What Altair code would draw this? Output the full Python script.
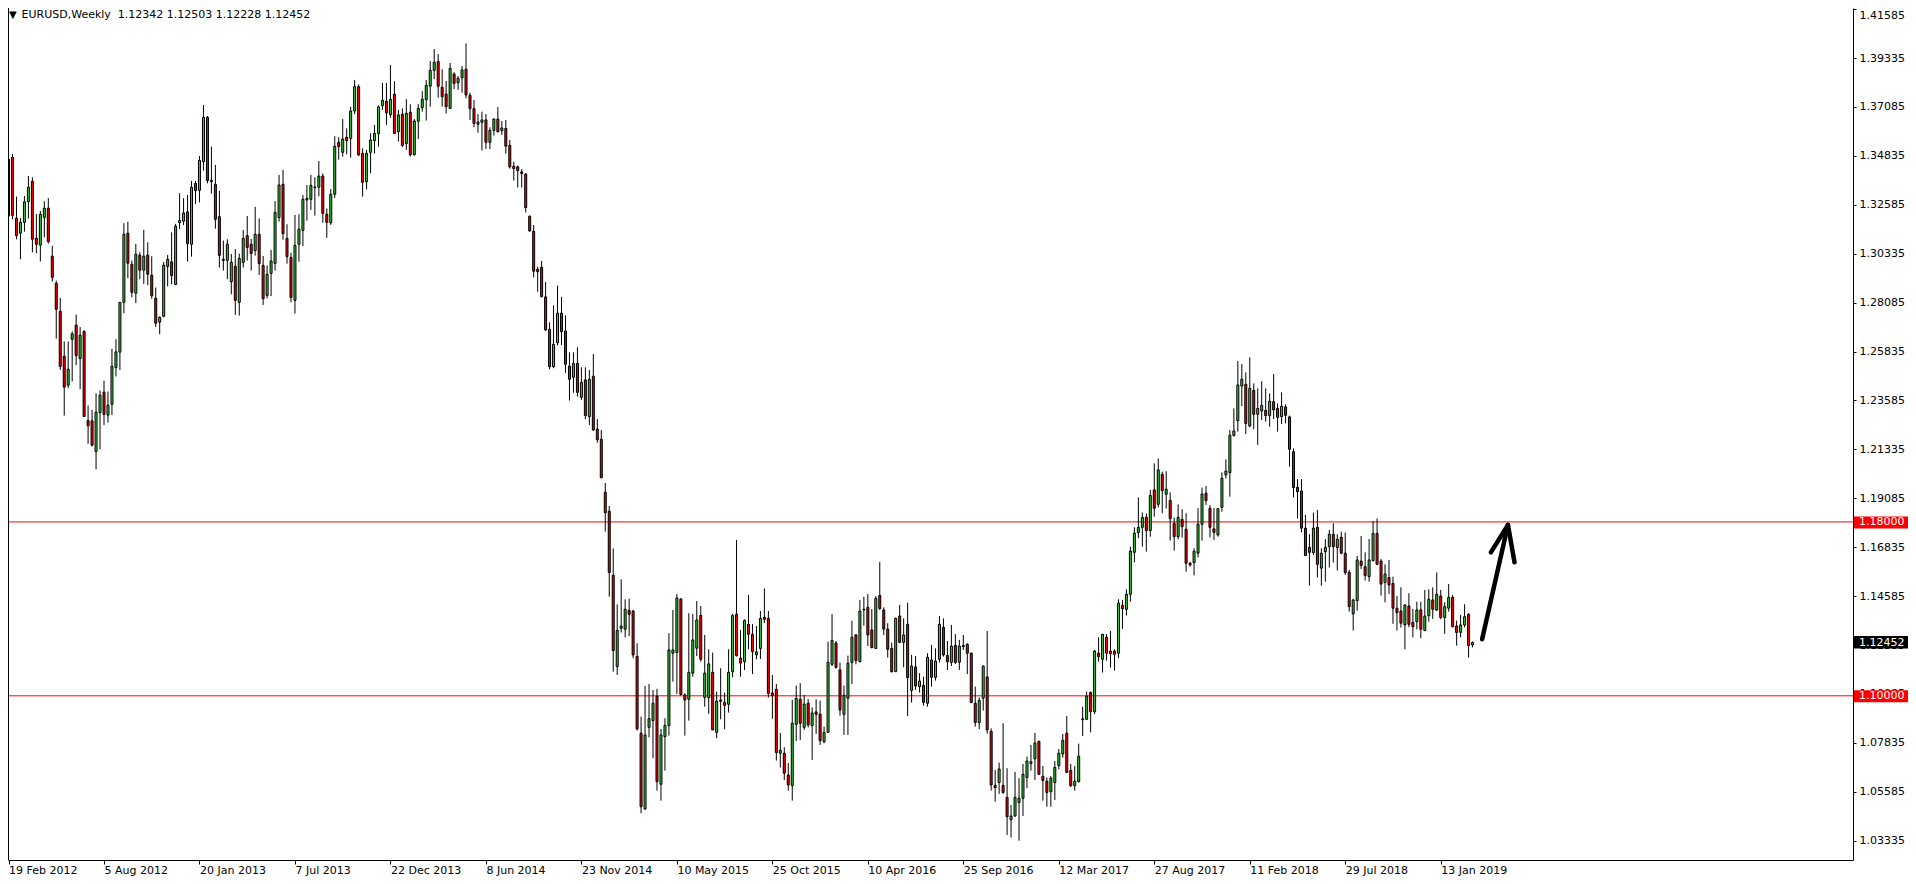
import altair as alt
import pandas as pd

# ---------------- data (weekly EURUSD, 19 Feb 2012 .. 10 Mar 2019) ----------------
OPEN = [
    1.3207, 1.3477, 1.3197, 1.3128, 1.3178, 1.3273, 1.3367, 1.3105, 1.3073, 1.3201,
    1.3243, 1.3022, 1.2898, 1.2769, 1.2562, 1.2429, 1.2640, 1.2705, 1.2551, 1.2677,
    1.2266, 1.2265, 1.2124, 1.2303, 1.2397, 1.2291, 1.2341, 1.2510, 1.2581, 1.2810,
    1.3128, 1.2985, 1.2852, 1.3027, 1.2958, 1.3027, 1.2935, 1.2829, 1.2719, 1.2746,
    1.2975, 1.2996, 1.2892, 1.3177, 1.3183, 1.3226, 1.3077, 1.3357, 1.3325, 1.3457,
    1.3661, 1.3371, 1.3353, 1.3204, 1.3008, 1.3003, 1.2905, 1.2976, 1.2810, 1.2994,
    1.3117, 1.3077, 1.3048, 1.3123, 1.2980, 1.2842, 1.2943, 1.2989, 1.3200, 1.3353,
    1.3104, 1.3017, 1.2819, 1.3077, 1.3141, 1.3281, 1.3284, 1.3337, 1.3340, 1.3391,
    1.3215, 1.3176, 1.3307, 1.3546, 1.3500, 1.3569, 1.3564, 1.3690, 1.3802, 1.3495,
    1.3365, 1.3500, 1.3554, 1.3586, 1.3715, 1.3735, 1.3673, 1.3767, 1.3595, 1.3675,
    1.3540, 1.3684, 1.3489, 1.3643, 1.3705, 1.3742, 1.3804, 1.3877, 1.3918, 1.3799,
    1.3768, 1.3702, 1.3860, 1.3820, 1.3843, 1.3882, 1.3762, 1.3701, 1.3629, 1.3638,
    1.3649, 1.3546, 1.3601, 1.3653, 1.3600, 1.3610, 1.3532, 1.3436, 1.3433, 1.3410,
    1.3400, 1.3206, 1.3137, 1.2962, 1.2971, 1.2835, 1.2686, 1.2514, 1.2624, 1.2760,
    1.2678, 1.2517, 1.2465, 1.2529, 1.2373, 1.2453, 1.2284, 1.2470, 1.2227, 1.2180,
    1.1936, 1.1849, 1.1554, 1.1134, 1.1311, 1.1306, 1.1393, 1.1390, 1.1182, 1.0828,
    1.0480, 1.0855, 1.0886, 1.0998, 1.0593, 1.0812, 1.0863, 1.1196, 1.1199, 1.1445,
    1.1004, 1.0984, 1.1104, 1.1219, 1.1370, 1.0993, 1.0992, 1.1108, 1.0832, 1.0981,
    1.0970, 1.0961, 1.1111, 1.1375, 1.1173, 1.1157, 1.1329, 1.1283, 1.1189, 1.1218,
    1.1361, 1.1356, 1.1013, 1.1030, 1.0736, 1.0736, 1.0636, 1.0587, 1.0869, 1.0984,
    1.0855, 1.0966, 1.0863, 1.0926, 1.0916, 1.0789, 1.0832, 1.1145, 1.1243, 1.1119,
    1.0915, 1.0989, 1.1153, 1.1280, 1.1157, 1.1395, 1.1407, 1.1303, 1.1218, 1.1462,
    1.1395, 1.1307, 1.1218, 1.1111, 1.1367, 1.1246, 1.1329, 1.1025, 1.1133, 1.1042,
    1.1048, 1.0966, 1.1165, 1.1085, 1.1168, 1.1315, 1.1186, 1.1154, 1.1232, 1.1154,
    1.1226, 1.1237, 1.1196, 1.0966, 1.0877, 1.0989, 1.1087, 1.0837, 1.0588, 1.0601,
    1.0588, 1.0533, 1.0430, 1.0447, 1.0509, 1.0529, 1.0624, 1.0688, 1.0710, 1.0791,
    1.0630, 1.0607, 1.0559, 1.0601, 1.0679, 1.0733, 1.0828, 1.0657, 1.0587, 1.0605,
    1.0890, 1.0892, 1.1016, 1.0927, 1.1196, 1.1168, 1.1269, 1.1206, 1.1206, 1.1196,
    1.1416, 1.1398, 1.1467, 1.1660, 1.1751, 1.1775, 1.1821, 1.1760, 1.1947, 1.1881,
    1.2019, 1.1927, 1.1899, 1.1794, 1.1732, 1.1812, 1.1766, 1.1610, 1.1613, 1.1656,
    1.1789, 1.1932, 1.1863, 1.1768, 1.1740, 1.1867, 1.2016, 1.2027, 1.2198, 1.2266,
    1.2425, 1.2433, 1.2241, 1.2405, 1.2295, 1.2310, 1.2313, 1.2289, 1.2353, 1.2322,
    1.2284, 1.2329, 1.2283, 1.2123, 1.1959, 1.1942, 1.1771, 1.1683, 1.1659, 1.1775,
    1.1587, 1.1663, 1.1686, 1.1743, 1.1682, 1.1729, 1.1656, 1.1568, 1.1377, 1.1438,
    1.1620, 1.1594, 1.1548, 1.1622, 1.1747, 1.1620, 1.1521, 1.1544, 1.1517, 1.1403,
    1.1390, 1.1326, 1.1413, 1.1338, 1.1341, 1.1395, 1.1300, 1.1369, 1.1441, 1.1395,
    1.1459, 1.1360, 1.1403, 1.1453, 1.1321, 1.1292, 1.1326, 1.1375, 1.12342,
]
HIGH = [
    1.3493, 1.3493, 1.3296, 1.3197, 1.3299, 1.3391, 1.3385, 1.3217, 1.3230, 1.3275,
    1.3289, 1.3070, 1.2910, 1.2830, 1.2630, 1.2630, 1.2676, 1.2754, 1.2696, 1.2680,
    1.2335, 1.2315, 1.2392, 1.2404, 1.2449, 1.2400, 1.2596, 1.2640, 1.2810, 1.3174,
    1.3181, 1.3002, 1.3079, 1.3040, 1.3143, 1.3086, 1.3022, 1.2878, 1.2745, 1.2996,
    1.3028, 1.3132, 1.3171, 1.3312, 1.3289, 1.3304, 1.3368, 1.3368, 1.3483, 1.3718,
    1.3667, 1.3526, 1.3442, 1.3322, 1.3094, 1.3100, 1.3032, 1.3055, 1.3034, 1.3143,
    1.3207, 1.3101, 1.3249, 1.3196, 1.3023, 1.2979, 1.3051, 1.3276, 1.3396, 1.3419,
    1.3169, 1.3038, 1.3212, 1.3215, 1.3304, 1.3350, 1.3396, 1.3385, 1.3460, 1.3403,
    1.3242, 1.3331, 1.3574, 1.3570, 1.3653, 1.3610, 1.3710, 1.3832, 1.3812, 1.3518,
    1.3511, 1.3587, 1.3626, 1.3716, 1.3819, 1.3819, 1.3902, 1.3827, 1.3695, 1.3702,
    1.3744, 1.3721, 1.3653, 1.3722, 1.3781, 1.3833, 1.3920, 1.3975, 1.3952, 1.3882,
    1.3828, 1.3911, 1.3868, 1.3851, 1.3897, 1.4001, 1.3774, 1.3741, 1.3676, 1.3687,
    1.3676, 1.3615, 1.3656, 1.3708, 1.3644, 1.3649, 1.3557, 1.3457, 1.3439, 1.3423,
    1.3404, 1.3209, 1.3166, 1.2974, 1.3000, 1.2904, 1.2718, 1.2796, 1.2887, 1.2835,
    1.2750, 1.2580, 1.2580, 1.2603, 1.2511, 1.2511, 1.2499, 1.2572, 1.2273, 1.2223,
    1.1979, 1.1873, 1.1678, 1.1421, 1.1536, 1.1444, 1.1447, 1.1395, 1.1242, 1.0904,
    1.1045, 1.1055, 1.1027, 1.1032, 1.0848, 1.0897, 1.1288, 1.1395, 1.1468, 1.1450,
    1.1012, 1.1380, 1.1377, 1.1436, 1.1413, 1.1280, 1.1214, 1.1199, 1.1019, 1.1127,
    1.1015, 1.1214, 1.1377, 1.1717, 1.1303, 1.1352, 1.1464, 1.1330, 1.1321, 1.1390,
    1.1494, 1.1390, 1.1096, 1.1054, 1.0829, 1.0763, 1.0691, 1.0981, 1.1047, 1.1058,
    1.1004, 1.0985, 1.0947, 1.0984, 1.0978, 1.0858, 1.1249, 1.1376, 1.1252, 1.1153,
    1.1047, 1.1185, 1.1346, 1.1284, 1.1441, 1.1456, 1.1468, 1.1399, 1.1459, 1.1616,
    1.1407, 1.1334, 1.1245, 1.1360, 1.1418, 1.1356, 1.1428, 1.1188, 1.1183, 1.1104,
    1.1088, 1.1196, 1.1234, 1.1218, 1.1367, 1.1356, 1.1252, 1.1326, 1.1284, 1.1257,
    1.1280, 1.1242, 1.1199, 1.1042, 1.0992, 1.1140, 1.1298, 1.0850, 1.0659, 1.0693,
    1.0874, 1.0667, 1.0498, 1.0650, 1.0621, 1.0687, 1.0720, 1.0774, 1.0829, 1.0791,
    1.0677, 1.0625, 1.0631, 1.0700, 1.0755, 1.0825, 1.0907, 1.0687, 1.0677, 1.0780,
    1.0950, 1.1019, 1.1019, 1.1211, 1.1269, 1.1284, 1.1284, 1.1298, 1.1214, 1.1444,
    1.1441, 1.1490, 1.1686, 1.1775, 1.1913, 1.1843, 1.1839, 1.1947, 1.2069, 1.2092,
    1.2031, 1.2033, 1.1936, 1.1820, 1.1881, 1.1858, 1.1840, 1.1616, 1.1679, 1.1863,
    1.1958, 1.1965, 1.1878, 1.1863, 1.1864, 1.2028, 1.2088, 1.2223, 1.2322, 1.2540,
    1.2526, 1.2488, 1.2557, 1.2437, 1.2414, 1.2447, 1.2414, 1.2391, 1.2480, 1.2345,
    1.2396, 1.2341, 1.2289, 1.2138, 1.1997, 1.1997, 1.1832, 1.1743, 1.1843, 1.1855,
    1.1679, 1.1721, 1.1763, 1.1794, 1.1743, 1.1755, 1.1751, 1.1579, 1.1446, 1.1643,
    1.1735, 1.1660, 1.1721, 1.1804, 1.1816, 1.1629, 1.1605, 1.1625, 1.1548, 1.1459,
    1.1499, 1.1421, 1.1472, 1.1400, 1.1433, 1.1433, 1.1487, 1.1490, 1.1499, 1.1568,
    1.1487, 1.1430, 1.1514, 1.1464, 1.1346, 1.1372, 1.1421, 1.1380, 1.12503,
]
LOW = [
    1.3189, 1.3192, 1.3100, 1.3008, 1.3135, 1.3195, 1.3040, 1.3036, 1.2998, 1.3109,
    1.3080, 1.2906, 1.2643, 1.2499, 1.2289, 1.2415, 1.2446, 1.2521, 1.2410, 1.2285,
    1.2159, 1.2147, 1.2042, 1.2134, 1.2245, 1.2257, 1.2291, 1.2469, 1.2499, 1.2760,
    1.2921, 1.2833, 1.2806, 1.2916, 1.2895, 1.2889, 1.2826, 1.2696, 1.2663, 1.2741,
    1.2883, 1.2893, 1.2889, 1.3146, 1.3165, 1.2998, 1.3020, 1.3262, 1.3270, 1.3416,
    1.3357, 1.3310, 1.3149, 1.2970, 1.2956, 1.2916, 1.2847, 1.2752, 1.2749, 1.2970,
    1.3002, 1.2956, 1.3025, 1.2936, 1.2798, 1.2828, 1.2839, 1.2956, 1.3181, 1.3098,
    1.2988, 1.2810, 1.2758, 1.2997, 1.3069, 1.3186, 1.3235, 1.3209, 1.3298, 1.3176,
    1.3107, 1.3166, 1.3290, 1.3466, 1.3480, 1.3491, 1.3475, 1.3675, 1.3483, 1.3296,
    1.3330, 1.3403, 1.3494, 1.3526, 1.3695, 1.3626, 1.3659, 1.3584, 1.3549, 1.3524,
    1.3511, 1.3480, 1.3485, 1.3561, 1.3687, 1.3646, 1.3710, 1.3837, 1.3751, 1.3710,
    1.3678, 1.3702, 1.3791, 1.3787, 1.3774, 1.3748, 1.3649, 1.3615, 1.3590, 1.3508,
    1.3515, 1.3515, 1.3577, 1.3590, 1.3580, 1.3494, 1.3425, 1.3370, 1.3338, 1.3338,
    1.3223, 1.3135, 1.2924, 1.2859, 1.2832, 1.2678, 1.2502, 1.2507, 1.2612, 1.2614,
    1.2486, 1.2358, 1.2394, 1.2376, 1.2361, 1.2272, 1.2246, 1.2218, 1.2164, 1.1999,
    1.1755, 1.1456, 1.1111, 1.1096, 1.1291, 1.1269, 1.1275, 1.1173, 1.0840, 1.0460,
    1.0475, 1.0809, 1.0713, 1.0564, 1.0518, 1.0656, 1.0817, 1.1065, 1.1009, 1.1001,
    1.0817, 1.0886, 1.1088, 1.1183, 1.1157, 1.0950, 1.0917, 1.0843, 1.0805, 1.0892,
    1.0846, 1.0923, 1.1085, 1.1180, 1.1088, 1.1119, 1.1214, 1.1100, 1.1168, 1.1169,
    1.1334, 1.0992, 1.0894, 1.0702, 1.0670, 1.0613, 1.0564, 1.0518, 1.0792, 1.0797,
    1.0843, 1.0855, 1.0705, 1.0825, 1.0774, 1.0782, 1.0831, 1.1137, 1.1126, 1.0909,
    1.0820, 1.0820, 1.1054, 1.1145, 1.1154, 1.1323, 1.1229, 1.1218, 1.1215, 1.1395,
    1.1280, 1.1176, 1.1107, 1.1111, 1.1242, 1.1131, 1.0907, 1.0969, 1.1027, 1.1015,
    1.0955, 1.0950, 1.1042, 1.1070, 1.1153, 1.1180, 1.1119, 1.1137, 1.1146, 1.1119,
    1.1211, 1.1100, 1.0966, 1.0858, 1.0847, 1.0932, 1.0826, 1.0564, 1.0513, 1.0549,
    1.0549, 1.0360, 1.0348, 1.0444, 1.0334, 1.0447, 1.0575, 1.0656, 1.0613, 1.0636,
    1.0518, 1.0490, 1.0490, 1.0521, 1.0662, 1.0716, 1.0644, 1.0581, 1.0564, 1.0601,
    1.0815, 1.0889, 1.0832, 1.0916, 1.1157, 1.1107, 1.1162, 1.1130, 1.1116, 1.1173,
    1.1308, 1.1369, 1.1433, 1.1614, 1.1725, 1.1686, 1.1663, 1.1732, 1.1824, 1.1867,
    1.1840, 1.1861, 1.1714, 1.1668, 1.1720, 1.1728, 1.1571, 1.1594, 1.1554, 1.1637,
    1.1714, 1.1878, 1.1728, 1.1717, 1.1732, 1.1847, 1.2000, 1.1916, 1.2192, 1.2215,
    1.2333, 1.2204, 1.2235, 1.2226, 1.2154, 1.2269, 1.2261, 1.2238, 1.2273, 1.2215,
    1.2250, 1.2253, 1.2054, 1.1912, 1.1816, 1.1752, 1.1643, 1.1507, 1.1648, 1.1544,
    1.1507, 1.1525, 1.1590, 1.1613, 1.1576, 1.1651, 1.1556, 1.1387, 1.1300, 1.1392,
    1.1583, 1.1530, 1.1525, 1.1617, 1.1602, 1.1461, 1.1430, 1.1469, 1.1331, 1.1300,
    1.1314, 1.1214, 1.1315, 1.1269, 1.1306, 1.1265, 1.1298, 1.1341, 1.1354, 1.1390,
    1.1352, 1.1285, 1.1387, 1.1315, 1.1231, 1.1269, 1.1315, 1.1176, 1.12228,
]
CLOSE = [
    1.3468, 1.3210, 1.3117, 1.3178, 1.3272, 1.3339, 1.3100, 1.3077, 1.3215, 1.3243,
    1.3089, 1.2925, 1.2778, 1.2515, 1.2420, 1.2502, 1.2665, 1.2565, 1.2659, 1.2285,
    1.2242, 1.2153, 1.2305, 1.2383, 1.2295, 1.2337, 1.2516, 1.2582, 1.2810, 1.3123,
    1.2990, 1.2856, 1.3031, 1.2958, 1.3022, 1.2939, 1.2840, 1.2714, 1.2741, 1.2981,
    1.3008, 1.2933, 1.3160, 1.3187, 1.3221, 1.3080, 1.3339, 1.3324, 1.3463, 1.3661,
    1.3370, 1.3365, 1.3192, 1.3026, 1.3003, 1.3077, 1.2994, 1.2819, 1.3012, 1.3104,
    1.3062, 1.3035, 1.3123, 1.2988, 1.2827, 1.2939, 1.3000, 1.3224, 1.3350, 1.3126,
    1.3020, 1.2833, 1.3072, 1.3146, 1.3284, 1.3288, 1.3348, 1.3340, 1.3391, 1.3219,
    1.3178, 1.3307, 1.3528, 1.3526, 1.3561, 1.3554, 1.3690, 1.3802, 1.3488, 1.3362,
    1.3495, 1.3557, 1.3587, 1.3709, 1.3739, 1.3682, 1.3744, 1.3587, 1.3672, 1.3532,
    1.3679, 1.3489, 1.3644, 1.3702, 1.3744, 1.3808, 1.3877, 1.3914, 1.3804, 1.3756,
    1.3710, 1.3886, 1.3817, 1.3840, 1.3879, 1.3764, 1.3701, 1.3633, 1.3639, 1.3649,
    1.3546, 1.3601, 1.3653, 1.3595, 1.3612, 1.3528, 1.3433, 1.3425, 1.3416, 1.3402,
    1.3246, 1.3138, 1.2953, 1.2951, 1.2836, 1.2683, 1.2514, 1.2617, 1.2760, 1.2675,
    1.2525, 1.2456, 1.2529, 1.2396, 1.2442, 1.2289, 1.2456, 1.2223, 1.2178, 1.2004,
    1.1842, 1.1567, 1.1208, 1.1301, 1.1321, 1.1398, 1.1375, 1.1188, 1.0848, 1.0490,
    1.0820, 1.0895, 1.0966, 1.0605, 1.0820, 1.0864, 1.1211, 1.1211, 1.1450, 1.1006,
    1.0981, 1.1108, 1.1257, 1.1349, 1.1168, 1.1104, 1.1147, 1.0843, 1.0976, 1.0975,
    1.0956, 1.1108, 1.1369, 1.1185, 1.1150, 1.1346, 1.1283, 1.1203, 1.1202, 1.1356,
    1.1352, 1.1011, 1.1001, 1.0739, 1.0749, 1.0644, 1.0590, 1.0874, 1.0988, 1.0874,
    1.0962, 1.0866, 1.0921, 1.0915, 1.0794, 1.0832, 1.1154, 1.1255, 1.1131, 1.0935,
    1.1002, 1.1150, 1.1269, 1.1162, 1.1390, 1.1398, 1.1280, 1.1222, 1.1448, 1.1401,
    1.1307, 1.1214, 1.1111, 1.1356, 1.1246, 1.1280, 1.1084, 1.1137, 1.1045, 1.1068,
    1.0970, 1.1177, 1.1085, 1.1160, 1.1329, 1.1188, 1.1157, 1.1229, 1.1154, 1.1229,
    1.1232, 1.1196, 1.0969, 1.0877, 1.0979, 1.1137, 1.0843, 1.0590, 1.0578, 1.0663,
    1.0555, 1.0444, 1.0447, 1.0533, 1.0529, 1.0639, 1.0700, 1.0697, 1.0783, 1.0639,
    1.0610, 1.0555, 1.0621, 1.0671, 1.0736, 1.0795, 1.0648, 1.0587, 1.0607, 1.0722,
    1.0894, 1.0998, 1.0927, 1.1206, 1.1180, 1.1283, 1.1196, 1.1194, 1.1191, 1.1426,
    1.1401, 1.1467, 1.1666, 1.1748, 1.1775, 1.1821, 1.1760, 1.1922, 1.1863, 1.2039,
    1.1944, 1.1950, 1.1815, 1.1732, 1.1821, 1.1778, 1.1610, 1.1602, 1.1665, 1.1790,
    1.1928, 1.1898, 1.1775, 1.1752, 1.1861, 1.2000, 1.2034, 1.2198, 1.2218, 1.2430,
    1.2456, 1.2253, 1.2414, 1.2295, 1.2322, 1.2336, 1.2289, 1.2355, 1.2315, 1.2281,
    1.2332, 1.2290, 1.2134, 1.1958, 1.1939, 1.1771, 1.1645, 1.1660, 1.1771, 1.1605,
    1.1656, 1.1683, 1.1743, 1.1686, 1.1720, 1.1656, 1.1567, 1.1410, 1.1441, 1.1625,
    1.1599, 1.1553, 1.1625, 1.1747, 1.1605, 1.1514, 1.1560, 1.1510, 1.1403, 1.1383,
    1.1334, 1.1418, 1.1329, 1.1318, 1.1395, 1.1306, 1.1367, 1.1444, 1.1398, 1.1467,
    1.1360, 1.1410, 1.1453, 1.1318, 1.1291, 1.1326, 1.1364, 1.1231, 1.12452,
]

X_TICK_LABELS = [
    "19 Feb 2012", "5 Aug 2012", "20 Jan 2013", "7 Jul 2013", "22 Dec 2013", "8 Jun 2014",
    "23 Nov 2014", "10 May 2015", "25 Oct 2015", "10 Apr 2016", "25 Sep 2016", "12 Mar 2017",
    "27 Aug 2017", "11 Feb 2018", "29 Jul 2018", "13 Jan 2019",
]
X_TICK_EVERY = 24  # weeks between date labels

Y_TICKS = [
    1.03335, 1.05585, 1.07835, 1.10085, 1.12335, 1.14585, 1.16835, 1.19085, 1.21335,
    1.23585, 1.25835, 1.28085, 1.30335, 1.32585, 1.34835, 1.37085, 1.39335, 1.41585,
]
LEVELS = [1.18000, 1.10000]

# hand-drawn arrow (bar index, price)
ARROW_SEG = ["shaft", "shaft", "left", "left", "right", "right"]
ARROW_X = [370.4, 376.9, 372.6, 376.9, 378.55, 376.9]
ARROW_Y = [1.1260, 1.1786, 1.1660, 1.1786, 1.1614, 1.1786]
ARROW_ORD = [0, 1, 0, 1, 0, 1]

# ---------------- layout / style ----------------
W, H = 1845, 852
RIGHT_PAD = 55
X_DOMAIN = [1.125, 462.375]
Y_DOMAIN = [1.02448, 1.41638]
FONT = "DejaVu Sans"
BULL, BEAR = "#32CD32", "#FF0000"

n = len(CLOSE)
assert len(OPEN) == n and len(HIGH) == n and len(LOW) == n, (len(OPEN), len(HIGH), len(LOW), n)

bars = pd.DataFrame({"idx": list(range(n)), "open": OPEN, "high": HIGH, "low": LOW, "close": CLOSE})
bars["dir"] = ["up" if c >= o else "down" for o, c in zip(OPEN, CLOSE)]

xscale = alt.Scale(domain=X_DOMAIN, nice=False, zero=False)
yscale = alt.Scale(domain=Y_DOMAIN, nice=False, zero=False)

labels_js = "[" + ",".join("'" + s + "'" for s in X_TICK_LABELS) + "]"
xaxis = alt.Axis(
    values=[i * X_TICK_EVERY for i in range(len(X_TICK_LABELS))],
    labelExpr="(datum.value === 0 ? '\u00a0' : '') + " + labels_js
    + "[round(datum.value / " + str(X_TICK_EVERY) + ")]",
    orient="bottom", title=None, grid=False,
    domainColor="black", domainWidth=1, tickColor="black", tickSize=4, tickWidth=1,
    labelAlign="left", labelBaseline="top", labelPadding=0,
    labelFont=FONT, labelFontSize=11, labelColor="black",
    labelOverlap=False, labelFlush=False, labelBound=False,
)
yaxis = alt.Axis(
    values=Y_TICKS, format=".5f", orient="right", title=None, grid=False,
    domainColor="black", domainWidth=1, tickColor="black", tickSize=3, tickWidth=1,
    labelPadding=3, labelFont=FONT, labelFontSize=11, labelColor="black",
    labelAlign="left",
    labelBaseline={"condition": {"test": "datum.value > 1.41", "value": "top"}, "value": "middle"},
    labelOverlap=False, labelFlush=False,
)


def X(field):
    return alt.X(f"{field}:Q", scale=xscale, axis=xaxis)


def Y(field):
    return alt.Y(f"{field}:Q", scale=yscale, axis=yaxis)


levels_df = pd.DataFrame({"level": LEVELS, "text": [f"{v:.5f}" for v in LEVELS]})
last_df = pd.DataFrame({"level": [CLOSE[-1]], "text": [f"{CLOSE[-1]:.5f}"]})
arrow_df = pd.DataFrame({"seg": ARROW_SEG, "ax": ARROW_X, "ay": ARROW_Y, "ord": ARROW_ORD})
header_df = pd.DataFrame({
    "text": ["EURUSD,Weekly\u00a0\u00a0" + " ".join(f"{v:.5f}" for v in (OPEN[-1], HIGH[-1], LOW[-1], CLOSE[-1]))],
    "tri": ["\u25bc"],
})

level_rules = alt.Chart(levels_df).mark_rule(color="#FF0000", strokeWidth=1).encode(y=Y("level"))

wicks = alt.Chart(bars).mark_rule(color="black", strokeWidth=1).encode(
    x=X("idx"), y=Y("low"), y2="high:Q"
)
bodies = alt.Chart(bars).mark_bar(size=2, stroke="black", strokeWidth=1).encode(
    x=X("idx"), y=Y("open"), y2="close:Q",
    color=alt.Color("dir:N", scale=alt.Scale(domain=["up", "down"], range=[BULL, BEAR]), legend=None),
)

arrow = alt.Chart(arrow_df).mark_line(
    color="black", strokeWidth=4.5, strokeCap="round", strokeJoin="round"
).encode(x=X("ax"), y=Y("ay"), detail="seg:N", order="ord:Q")

lvl_box = alt.Chart(levels_df).mark_rect(color="#FF0000", yOffset=-5.5, y2Offset=6.5).encode(
    x=alt.value(W + 1), x2=alt.value(W + RIGHT_PAD), y=Y("level"), y2="level:Q"
)
lvl_text = alt.Chart(levels_df).mark_text(
    align="left", baseline="middle", color="white", font=FONT, fontSize=11, dy=0.5
).encode(x=alt.value(W + 6), y=Y("level"), text="text:N")

last_box = alt.Chart(last_df).mark_rect(color="black", yOffset=-6.5, y2Offset=6).encode(
    x=alt.value(W + 1), x2=alt.value(W + RIGHT_PAD), y=Y("level"), y2="level:Q"
)
last_text = alt.Chart(last_df).mark_text(
    align="left", baseline="middle", color="white", font=FONT, fontSize=11
).encode(x=alt.value(W + 6), y=Y("level"), text="text:N")

header = alt.Chart(header_df).mark_text(
    align="left", baseline="top", font=FONT, fontSize=11, color="black"
).encode(x=alt.value(13.5), y=alt.value(1), text="text:N")
tri = alt.Chart(header_df).mark_text(
    align="left", baseline="top", font=FONT, fontSize=10, color="black"
).encode(x=alt.value(1), y=alt.value(2), text="tri:N")

left_border = alt.Chart(header_df).mark_rule(color="black", strokeWidth=1).encode(
    x=alt.value(0.5), y=alt.value(0), y2=alt.value(H)
)

chart = alt.layer(
    level_rules, wicks, bodies, arrow, lvl_box, lvl_text, last_box, last_text, header, tri, left_border
).properties(
    width=W, height=H,
    autosize=alt.AutoSizeParams(type="none"),
    padding={"left": 0, "top": 0, "right": RIGHT_PAD, "bottom": 16},
    background="white",
).configure_view(stroke=None)

chart.save("out.html", embed_options={"renderer": "svg", "actions": False})
